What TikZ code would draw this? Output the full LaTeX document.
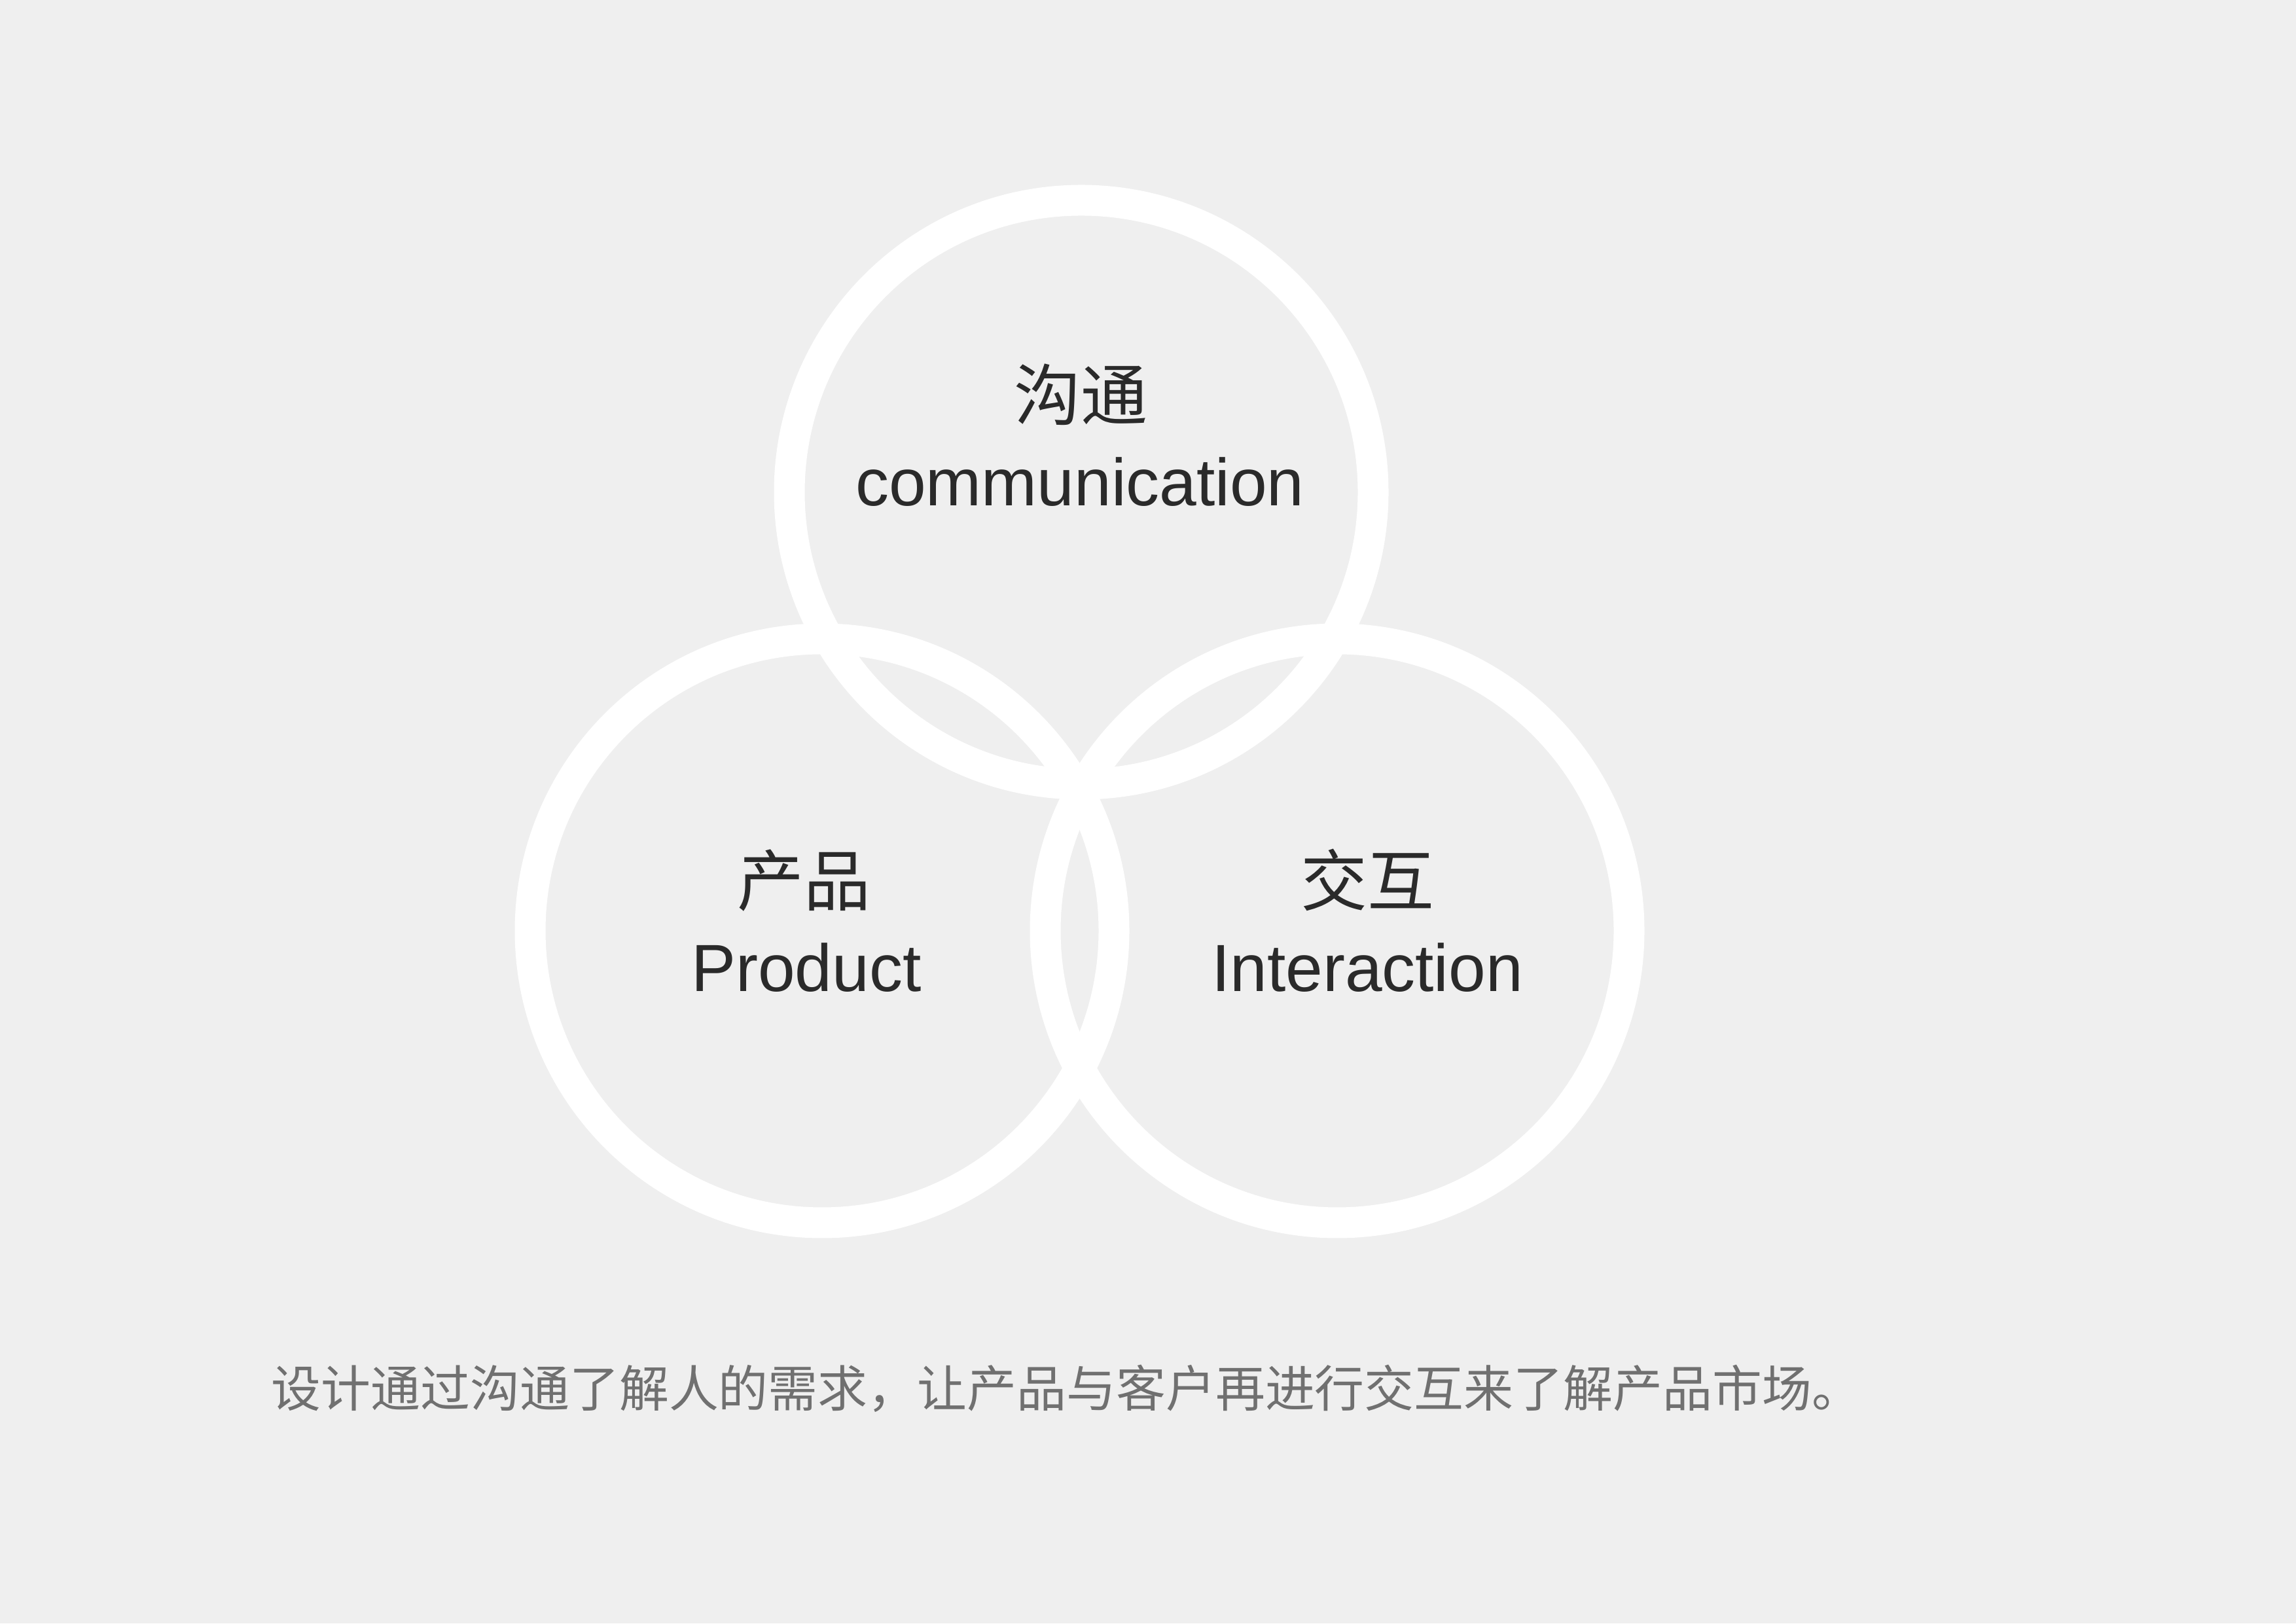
\documentclass[tikz,border=0pt]{standalone}
\usepackage{fontspec}
\setmainfont{Liberation Sans}
\newfontfamily\cjk{Noto Sans CJK SC}
\usetikzlibrary{calc}
\definecolor{nen}{HTML}{EFEFEF}
\definecolor{chu}{HTML}{2A2A2A}
\definecolor{ghichu}{HTML}{707070}

\begin{document}
\begin{tikzpicture}[
    vong/.style={draw=white, line width=0.47cm},
    nhanzh/.style={anchor=base, inner sep=0pt, text=chu, font=\cjk\fontsize{29}{34}\selectfont},
    nhanen/.style={anchor=base, inner sep=0pt, text=chu, font=\fontsize{29}{34}\selectfont}]
                % Nền
                \fill[nen] (0,0) rectangle (35.08,24.80);
                \useasboundingbox (0,0) rectangle (35.08,24.80);
                % Ba vòng tròn
                \coordinate (goutong) at (16.52,17.28);
                \coordinate (chanpin) at (12.56,10.58);
                \coordinate (jiaohu) at (20.43,10.58);
                \draw[vong] (goutong) circle (4.46);
                \draw[vong] (chanpin) circle (4.46);
                \draw[vong] (jiaohu) circle (4.46);
                % Nhãn
                \node[nhanzh] (goutongzh) at (16.51,18.38) {沟通};
                \node[nhanen] (goutongen) at (16.50,17.07) {communication};
                \node[nhanzh] (chanpinzh) at (12.28,10.96) {产品};
                \node[nhanen] (chanpinen) at (12.32,9.65) {Product};
                \node[nhanzh] (jiaohuzh) at (20.89,10.96) {交互};
                \node[nhanen] (jiaohuen) at (20.89,9.65) {Interaction};
                % Chú thích
                \node[anchor=base west, inner sep=0pt, text=ghichu, font=\cjk\fontsize{21.6}{26}\selectfont] (ghichu) at (4.14,3.30) {设计通过沟通了解人的需求，让产品与客户再进行交互来了解产品市场。};
\end{tikzpicture}
\end{document}
